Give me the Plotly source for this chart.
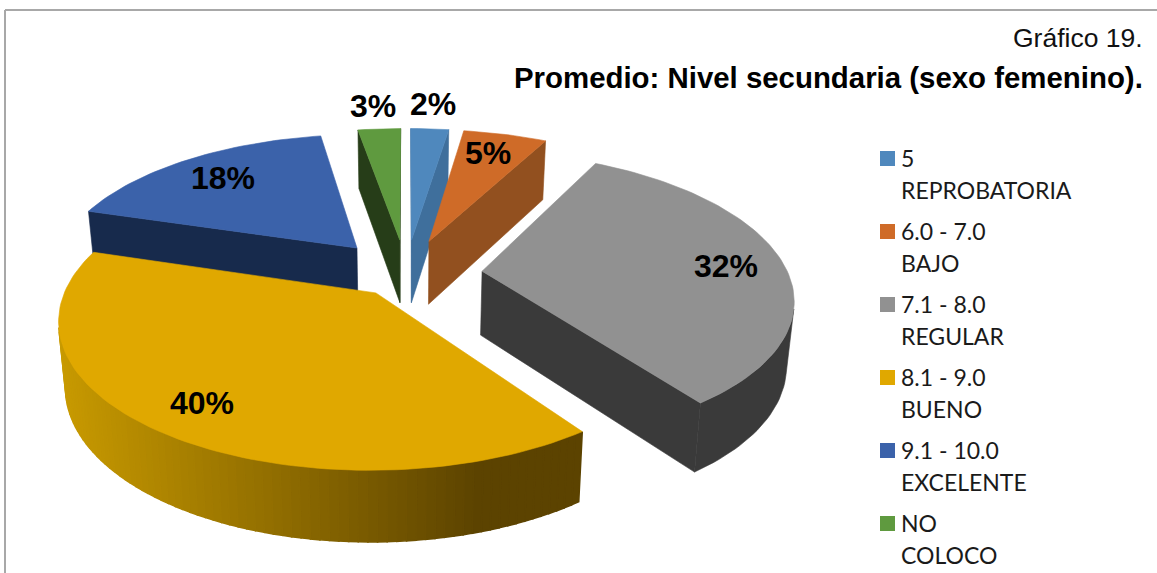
import math
import plotly.graph_objects as go

# ---- data
categories = ["5<br>REPROBATORIA", "6.0 - 7.0<br>BAJO", "7.1 - 8.0<br>REGULAR",
              "8.1 - 9.0<br>BUENO", "9.1 - 10.0<br>EXCELENTE", "NO<br>COLOCO"]
values = [2.4, 5.3, 32.4, 39.6, 17.6, 2.7]
top_colors = ["#4f88bd", "#cf6b28", "#919191", "#e0a800", "#3b62aa", "#5f9a3f"]
wall_colors = ["#3f6f9c", "#92501f", "#3a3a3a", None, "#172a4c", "#263d18"]
draw_order = [4, 5, 0, 1, 2, 3]
explode = [0.25, 0.25, 0.25, 0.165, 0.25, 0.25]
radius = [1.0, 1.0, 1.0, 0.995, 1.0, 1.0]
label_r = [1.22, 0.86, 0.80, 0.72, 0.72, 1.22]
label_nudge = [(0, -4), (-8, 5), (3, 2), (-24, 14), (-8, -4), (-2, -3)]

# ---- view of the 3D pie (pixels)
CX, CY, R, TILT, PERSP, DEPTH, VANISH = 406, 273.6, 306, 0.46, 0.17, 64, 0.02
GOLD_L, GOLD_R = (200, 154, 0), (92, 67, 0)


def pol(a):
    return math.sin(math.radians(a)), -math.cos(math.radians(a))


def proj(u, v, z=0):
    s = 1 / (1 - PERSP * v)
    return (CX + R * u * s * (1 - VANISH * z),
            CY + R * TILT * v * s + DEPTH * z * (1 + (s - 1) * 0.5))


def area(p):
    return sum(p[i][0] * p[(i + 1) % len(p)][1] - p[(i + 1) % len(p)][0] * p[i][1] for i in range(len(p)))


def poly(fig, pts, color, lw=0.6):
    xs = [p[0] for p in pts] + [pts[0][0]]
    ys = [p[1] for p in pts] + [pts[0][1]]
    fig.add_trace(go.Scatter(x=xs, y=ys, mode="lines", fill="toself", fillcolor=color,
                             line=dict(color=color, width=lw), hoverinfo="skip", showlegend=False))


fig = go.Figure()
total = sum(values)
starts, acc = [], 0.0
for val in values:
    starts.append(acc)
    acc += val / total * 360

for i in draw_order:
    a0 = starts[i]
    a1 = a0 + values[i] / total * 360
    mid = (a0 + a1) / 2
    du, dv = pol(mid)
    ou, ov = du * explode[i], dv * explode[i]
    n = max(2, int((a1 - a0) / 1.5))
    angs = [a0 + (a1 - a0) * k / n for k in range(n + 1)]
    def rim(a, z=0):
        u, v = pol(a)
        return proj(ou + u * radius[i], ov + v * radius[i], z)
    A, B = proj(ou, ov, 0), proj(ou, ov, 1)
    wall = wall_colors[i] or "#5c4300"
    # cut faces
    q0 = [A, rim(a0), rim(a0, 1), B]
    if area(q0) < 0:
        poly(fig, q0, wall)
    q1 = [A, rim(a1), rim(a1, 1), B]
    if area(q1) > 0:
        poly(fig, q1, wall)
    # outer wall
    segs = [(a, b) for a, b in zip(angs[:-1], angs[1:])
            if area([rim(a), rim(b), rim(b, 1), rim(a, 1)]) < 0]
    if segs:
        if wall_colors[i] is None:
            for a, b in segs:
                q = [rim(a), rim(b), rim(b, 1), rim(a, 1)]
                xm = (q[0][0] + q[1][0]) / 2
                f = min(1, max(0, (xm - 60) / 420))
                c = "rgb(%d,%d,%d)" % tuple(GOLD_L[j] + (GOLD_R[j] - GOLD_L[j]) * f for j in range(3))
                poly(fig, q, c, lw=1.6)
        else:
            pts = [rim(segs[0][0])] + [rim(b) for _, b in segs]
            pts += [rim(b, 1) for _, b in reversed(segs)] + [rim(segs[0][0], 1)]
            poly(fig, pts, wall)
    # top face
    poly(fig, [A] + [rim(a) for a in angs], top_colors[i])

# labels
for i, val in enumerate(values):
    mid = starts[i] + val / total * 180
    du, dv = pol(mid)
    r = explode[i] + label_r[i]
    x, y = proj(du * r, dv * r)
    fig.add_annotation(x=x + label_nudge[i][0], y=y + label_nudge[i][1], text=f"<b>{round(val)}%</b>", showarrow=False,
                       font=dict(family="Liberation Sans", size=32, color="#000000"))

# legend: square + two text lines per category
shapes = [dict(type="line", x0=5, x1=1157, y0=10, y1=10, line=dict(color="#a8a8a8", width=2)),
          dict(type="line", x0=5, x1=5, y0=10, y1=573, line=dict(color="#a8a8a8", width=2))]
LEG_Y, LEG_STEP, LEG_LINE = 158.5, 73, 32.5
for i, name in enumerate(categories):
    yc = LEG_Y + i * LEG_STEP
    shapes.append(dict(type="rect", x0=880, x1=895, y0=yc - 7.5, y1=yc + 7.5, fillcolor=top_colors[i],
                       line=dict(width=0)))
    for k, part in enumerate(name.split("<br>")):
        fig.add_annotation(x=899, y=yc - 1 + k * LEG_LINE, xanchor="left", text=part, showarrow=False,
                           font=dict(family="Lato", size=23, color="#1a1a1a"))

fig.add_annotation(x=1145, y=38, xanchor="right", text="Gráfico 19.", showarrow=False,
                   font=dict(family="Liberation Sans", size=26.5, color="#111111"))
fig.add_annotation(x=1145, y=77, xanchor="right", text="<b>Promedio: Nivel secundaria (sexo femenino).</b>",
                   showarrow=False, font=dict(family="Liberation Sans", size=29.4, color="#000000"))

fig.update_layout(
    width=1157, height=573, margin=dict(l=0, r=0, t=0, b=0), showlegend=False,
    paper_bgcolor="white", plot_bgcolor="white",
    xaxis=dict(range=[0, 1157], visible=False, fixedrange=True),
    yaxis=dict(range=[573, 0], visible=False, fixedrange=True),
    shapes=shapes,
)
fig.write_html("out.html", config=dict(displayModeBar=False),
               post_script="document.body.style.margin='0';document.body.style.overflow='hidden';")
